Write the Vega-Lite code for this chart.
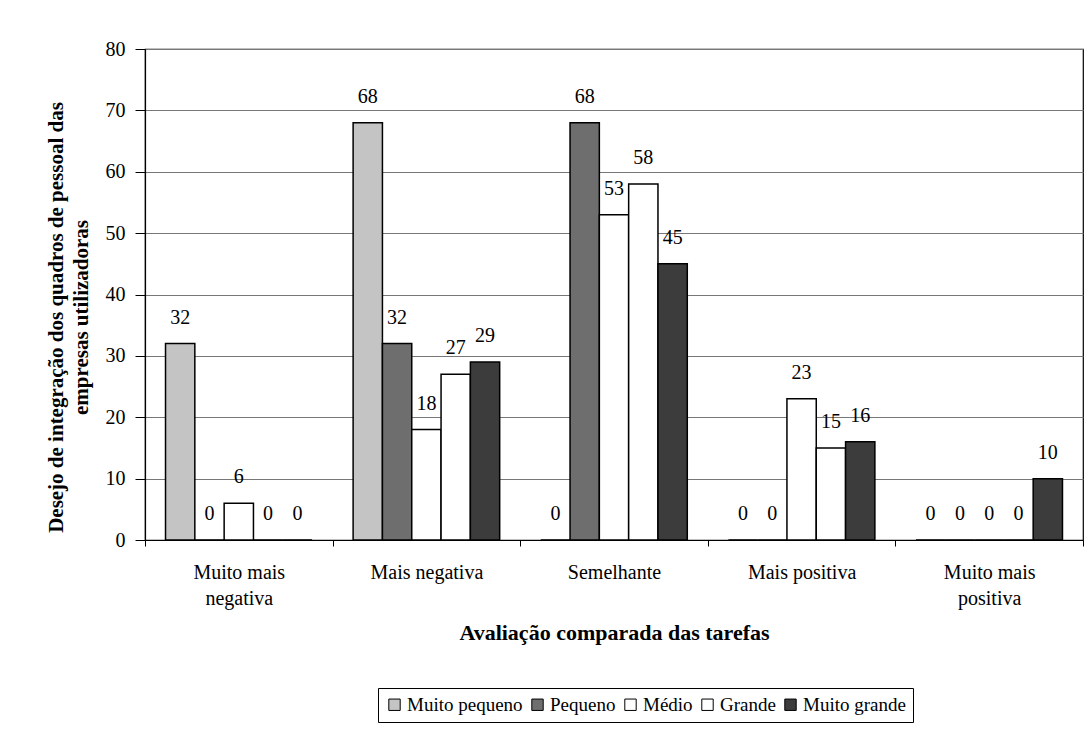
{
  "$schema": "https://vega.github.io/schema/vega-lite/v6.json",
  "width": 938,
  "height": 491,
  "autosize": {"type": "none"},
  "padding": {"left": 145, "top": 49, "right": 9, "bottom": 189},
  "background": "white",
  "config": {
    "font": "'Liberation Serif', 'DejaVu Serif', serif",
    "view": {"stroke": "black", "strokeWidth": 1.2},
    "text": {"font": "'Liberation Serif', 'DejaVu Serif', serif"},
    "legend": {"labelFont": "'Liberation Serif', 'DejaVu Serif', serif"},
    "axis": {"labelFont": "'Liberation Serif', 'DejaVu Serif', serif", "titleFont": "'Liberation Serif', 'DejaVu Serif', serif", "labelColor": "black", "titleColor": "black", "domainColor": "black", "tickColor": "black"}
  },
  "data": {"values": [
    {"cat": "Muito mais negativa", "serie": "Muito pequeno", "value": 32},
    {"cat": "Muito mais negativa", "serie": "Pequeno", "value": 0},
    {"cat": "Muito mais negativa", "serie": "Médio", "value": 6},
    {"cat": "Muito mais negativa", "serie": "Grande", "value": 0},
    {"cat": "Muito mais negativa", "serie": "Muito grande", "value": 0},
    {"cat": "Mais negativa", "serie": "Muito pequeno", "value": 68},
    {"cat": "Mais negativa", "serie": "Pequeno", "value": 32},
    {"cat": "Mais negativa", "serie": "Médio", "value": 18},
    {"cat": "Mais negativa", "serie": "Grande", "value": 27},
    {"cat": "Mais negativa", "serie": "Muito grande", "value": 29},
    {"cat": "Semelhante", "serie": "Muito pequeno", "value": 0},
    {"cat": "Semelhante", "serie": "Pequeno", "value": 68},
    {"cat": "Semelhante", "serie": "Médio", "value": 53},
    {"cat": "Semelhante", "serie": "Grande", "value": 58},
    {"cat": "Semelhante", "serie": "Muito grande", "value": 45},
    {"cat": "Mais positiva", "serie": "Muito pequeno", "value": 0},
    {"cat": "Mais positiva", "serie": "Pequeno", "value": 0},
    {"cat": "Mais positiva", "serie": "Médio", "value": 23},
    {"cat": "Mais positiva", "serie": "Grande", "value": 15},
    {"cat": "Mais positiva", "serie": "Muito grande", "value": 16},
    {"cat": "Muito mais positiva", "serie": "Muito pequeno", "value": 0},
    {"cat": "Muito mais positiva", "serie": "Pequeno", "value": 0},
    {"cat": "Muito mais positiva", "serie": "Médio", "value": 0},
    {"cat": "Muito mais positiva", "serie": "Grande", "value": 0},
    {"cat": "Muito mais positiva", "serie": "Muito grande", "value": 10}
  ]},
  "encoding": {
    "x": {
      "field": "cat", "type": "nominal", "sort": null,
      "scale": {"paddingInner": 0, "paddingOuter": 0},
      "axis": {
        "title": "Avaliação comparada das tarefas",
        "titleFontSize": 22, "titleFontWeight": "bold", "titlePadding": 14,
        "labelAngle": 0, "labelFontSize": 20, "labelPadding": 16, "labelLineHeight": 26,
        "labelExpr": "datum.label == 'Muito mais negativa' ? ['Muito mais', 'negativa'] : datum.label == 'Muito mais positiva' ? ['Muito mais', 'positiva'] : datum.label",
        "tickBand": "extent", "tickSize": 6, "domainWidth": 1.2
      }
    },
    "xOffset": {"field": "serie", "type": "nominal", "sort": ["Muito pequeno", "Pequeno", "Médio", "Grande", "Muito grande"], "scale": {"paddingInner": 0, "paddingOuter": 0.7}},
    "y": {
      "field": "value", "type": "quantitative",
      "scale": {"domain": [0, 80]},
      "axis": {
        "title": ["Desejo de integração dos quadros de pessoal das", "empresas utilizadoras"],
        "titleFontSize": 21, "titleFontWeight": "bold", "titleLineHeight": 25, "titlePadding": 14,
        "titleY": 268,
        "values": [0, 10, 20, 30, 40, 50, 60, 70, 80],
        "labelFontSize": 20, "labelPadding": 10, "tickSize": 10,
        "grid": true, "gridColor": "#777777", "gridWidth": 1, "domainWidth": 1.2
      }
    }
  },
  "layer": [
    {
      "mark": {"type": "bar", "stroke": "black", "strokeWidth": 1.5},
      "encoding": {
        "color": {
          "field": "serie", "type": "nominal",
          "sort": ["Muito pequeno", "Pequeno", "Médio", "Grande", "Muito grande"],
          "scale": {"domain": ["Muito pequeno", "Pequeno", "Médio", "Grande", "Muito grande"], "range": ["#c4c4c4", "#6e6e6e", "#ffffff", "#ffffff", "#3c3c3c"]},
          "legend": {
            "title": null, "orient": "none", "legendX": 233, "legendY": 639,
            "direction": "horizontal", "columns": 5,
            "labelFontSize": 19, "labelColor": "black",
            "symbolType": "square", "symbolSize": 130, "symbolStrokeColor": "black", "symbolStrokeWidth": 1,
            "symbolOpacity": 1, "columnPadding": 5, "labelOffset": 3,
            "strokeColor": "black", "padding": 7, "fillColor": "white"
          }
        }
      }
    },
    {
      "mark": {"type": "text", "baseline": "middle", "dy": -26, "fontSize": 20, "color": "black"},
      "encoding": {"text": {"field": "value", "type": "quantitative"}}
    }
  ]
}
